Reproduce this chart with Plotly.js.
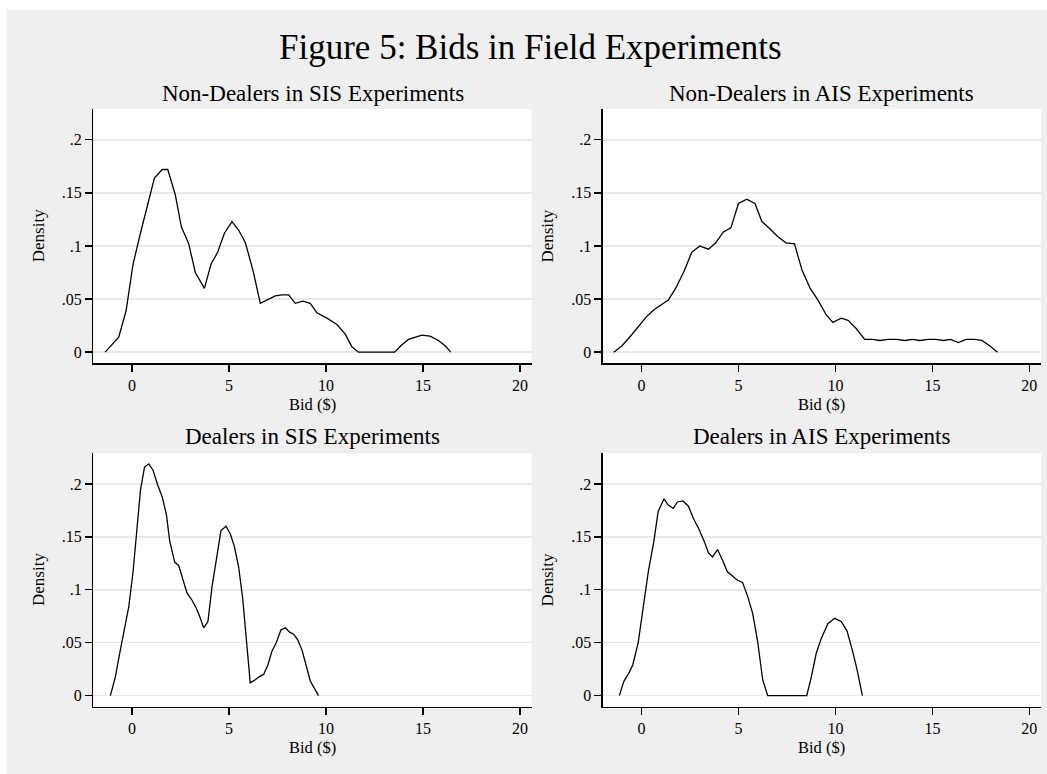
<!DOCTYPE html>
<html>
<head>
<meta charset="utf-8">
<script src="https://cdn.plot.ly/plotly-3.0.1.min.js"></script>
<style>
  html, body { margin: 0; padding: 0; background: #ffffff; width: 1047px; height: 774px; overflow: hidden; }
  #chart { position: absolute; left: 7px; top: 10px; width: 1040px; height: 764px; }
</style>
</head>
<body>
<div id="chart"></div>
<script>
// ---- Data ----
const mainTitle = "Figure 5: Bids in Field Experiments";
const panelTitles = [
  "Non-Dealers in SIS Experiments",
  "Non-Dealers in AIS Experiments",
  "Dealers in SIS Experiments",
  "Dealers in AIS Experiments"
];
const xAxisLabel = "Bid ($)";
const yAxisLabel = "Density";
const xTickVals = [0, 5, 10, 15, 20];
const xTickText = ["0", "5", "10", "15", "20"];
const yTickVals = [0, 0.05, 0.1, 0.15, 0.2];
const yTickText = ["0", ".05", ".1", ".15", ".2"];

// Non-Dealers, SIS
const nonDealersSIS_x = [-1.39, -0.69, -0.31, 0.05, 0.43, 1.15, 1.55, 1.84, 2.23, 2.54, 2.92, 3.26, 3.73, 4.07, 4.41, 4.76, 5.15, 5.49, 5.84, 6.23, 6.61, 6.95, 7.38, 7.73, 8.07, 8.41, 8.81, 9.18, 9.53, 10.04, 10.56, 10.99, 11.33, 11.67, 13.53, 13.91, 14.25, 14.94, 15.36, 15.79, 16.14, 16.43];
const nonDealersSIS_y = [0, 0.014, 0.039, 0.083, 0.112, 0.164, 0.172, 0.172, 0.148, 0.118, 0.102, 0.075, 0.060, 0.083, 0.094, 0.112, 0.123, 0.115, 0.103, 0.077, 0.046, 0.049, 0.053, 0.054, 0.054, 0.046, 0.048, 0.046, 0.037, 0.032, 0.026, 0.017, 0.005, 0, 0, 0.007, 0.012, 0.016, 0.015, 0.011, 0.006, 0];

// Non-Dealers, AIS
const nonDealersAIS_x = [-1.43, -1.0, -0.57, -0.14, 0.24, 0.64, 1.07, 1.38, 1.76, 2.19, 2.59, 3.0, 3.45, 3.83, 4.21, 4.61, 5.0, 5.43, 5.85, 6.21, 6.63, 7.02, 7.45, 7.89, 8.28, 8.7, 9.1, 9.53, 9.87, 10.3, 10.65, 11.08, 11.51, 11.91, 12.29, 12.72, 13.15, 13.58, 13.98, 14.36, 14.79, 15.19, 15.56, 15.94, 16.34, 16.74, 17.15, 17.55, 17.95, 18.36];
const nonDealersAIS_y = [0, 0.006, 0.015, 0.025, 0.033, 0.040, 0.045, 0.049, 0.060, 0.076, 0.094, 0.100, 0.097, 0.103, 0.113, 0.117, 0.140, 0.144, 0.140, 0.123, 0.116, 0.109, 0.103, 0.102, 0.077, 0.060, 0.049, 0.035, 0.028, 0.032, 0.030, 0.022, 0.012, 0.012, 0.011, 0.012, 0.012, 0.011, 0.012, 0.011, 0.012, 0.012, 0.011, 0.012, 0.009, 0.012, 0.012, 0.011, 0.006, 0];

// Dealers, SIS
const dealersSIS_x = [-1.12, -0.86, -0.65, -0.43, -0.17, 0.05, 0.26, 0.43, 0.64, 0.86, 1.08, 1.32, 1.55, 1.77, 1.94, 2.2, 2.4, 2.63, 2.83, 3.06, 3.3, 3.48, 3.69, 3.91, 4.12, 4.34, 4.58, 4.84, 5.06, 5.27, 5.49, 5.7, 5.89, 6.09, 6.35, 6.56, 6.78, 7.0, 7.21, 7.43, 7.67, 7.9, 8.12, 8.33, 8.53, 8.76, 8.98, 9.18, 9.39, 9.61];
const dealersSIS_y = [0, 0.018, 0.039, 0.059, 0.084, 0.117, 0.164, 0.194, 0.216, 0.219, 0.213, 0.199, 0.188, 0.171, 0.146, 0.126, 0.123, 0.109, 0.097, 0.091, 0.083, 0.075, 0.064, 0.070, 0.103, 0.128, 0.156, 0.160, 0.153, 0.141, 0.122, 0.092, 0.050, 0.012, 0.015, 0.018, 0.020, 0.029, 0.042, 0.050, 0.062, 0.064, 0.060, 0.058, 0.053, 0.043, 0.028, 0.014, 0.007, 0];

// Dealers, AIS
const dealersAIS_x = [-1.14, -0.91, -0.66, -0.45, -0.17, 0.03, 0.35, 0.64, 0.86, 1.16, 1.38, 1.64, 1.85, 2.14, 2.42, 2.66, 2.97, 3.23, 3.45, 3.66, 3.92, 4.18, 4.43, 4.69, 4.95, 5.21, 5.47, 5.73, 5.99, 6.25, 6.51, 8.52, 8.75, 9.01, 9.27, 9.61, 9.96, 10.3, 10.6, 10.87, 11.11, 11.39];
const dealersAIS_y = [0, 0.0135, 0.021, 0.029, 0.050, 0.075, 0.117, 0.146, 0.174, 0.186, 0.180, 0.177, 0.183, 0.184, 0.179, 0.168, 0.157, 0.146, 0.135, 0.131, 0.138, 0.128, 0.117, 0.113, 0.109, 0.107, 0.094, 0.078, 0.051, 0.015, 0, 0, 0.017, 0.040, 0.054, 0.068, 0.073, 0.070, 0.061, 0.043, 0.025, 0];

// ---- Layout ----
const FONT = "'Liberation Serif', 'Times New Roman', serif";
const W = 1040, H = 764, OX = 7, OY = 10, PAGE_H = 774;
const px = X => (X - OX) / W;
const py = Y => (PAGE_H - Y) / H;

const colDomains = [[px(93.3), px(531.7)], [px(602.7), px(1041)]];
const rowDomains = [[py(363.3), py(109)], [py(706.7), py(453.3)]];

const series = [
  [nonDealersSIS_x, nonDealersSIS_y],
  [nonDealersAIS_x, nonDealersAIS_y],
  [dealersSIS_x, dealersSIS_y],
  [dealersAIS_x, dealersAIS_y]
];

const traces = [];
const layout = {
  width: W, height: H,
  paper_bgcolor: '#efefef',
  plot_bgcolor: '#ffffff',
  margin: {l: 0, r: 0, t: 0, b: 0, pad: 0},
  showlegend: false,
  font: {family: FONT, color: '#000000', size: 16},
  annotations: [],
  hovermode: false
};

const titleX = [(93.3 + 531.7) / 2, (602.7 + 1041) / 2];
const titleY = [93, 437];
const bidY = [404, 747];
const densX = [38, 547.4];
const densY = [236.2, 580];

series.forEach((s, i) => {
  const r = Math.floor(i / 2), c = i % 2;
  const n = i + 1;
  const xa = 'x' + (n === 1 ? '' : n), ya = 'y' + (n === 1 ? '' : n);
  traces.push({
    type: 'scatter', mode: 'lines', x: s[0], y: s[1],
    xaxis: xa, yaxis: ya,
    line: {color: '#000000', width: 1.3},
    hoverinfo: 'skip'
  });
  const axBase = {
    showline: true, linecolor: '#000000', linewidth: 1.3,
    ticks: 'outside', ticklen: 7, tickwidth: 1.3, tickcolor: '#000000',
    zeroline: false, fixedrange: true,
    tickfont: {family: FONT, size: 16, color: '#000000'}
  };
  layout['xaxis' + (n === 1 ? '' : n)] = Object.assign({}, axBase, {
    domain: colDomains[c], anchor: ya,
    range: [-2.0, 20.6], tickmode: 'array', tickvals: xTickVals, ticktext: xTickText,
    showgrid: false
  });
  layout['yaxis' + (n === 1 ? '' : n)] = Object.assign({}, axBase, {
    domain: rowDomains[r], anchor: xa,
    range: [-0.0105, 0.229], tickmode: 'array', tickvals: yTickVals, ticktext: yTickText,
    showgrid: true, gridcolor: '#e8e8e8', gridwidth: 1.5
  });
  layout.annotations.push({
    text: panelTitles[i], xref: 'paper', yref: 'paper',
    x: px(titleX[c]), y: py(titleY[r]), xanchor: 'center', yanchor: 'middle',
    showarrow: false, font: {family: FONT, size: 23, color: '#000000'}
  });
  layout.annotations.push({
    text: xAxisLabel, xref: 'paper', yref: 'paper',
    x: px(titleX[c]), y: py(bidY[r]), xanchor: 'center', yanchor: 'middle',
    showarrow: false, font: {family: FONT, size: 16.5, color: '#000000'}
  });
  layout.annotations.push({
    text: yAxisLabel, xref: 'paper', yref: 'paper', textangle: -90,
    x: px(densX[c]), y: py(densY[r]), xanchor: 'center', yanchor: 'middle',
    showarrow: false, font: {family: FONT, size: 17, color: '#000000'}
  });
});

layout.annotations.push({
  text: mainTitle, xref: 'paper', yref: 'paper',
  x: px(530), y: py(47), xanchor: 'center', yanchor: 'middle',
  showarrow: false, font: {family: FONT, size: 35, color: '#000000'}
});

Plotly.newPlot('chart', traces, layout, {staticPlot: true, displayModeBar: false});
</script>
</body>
</html>
